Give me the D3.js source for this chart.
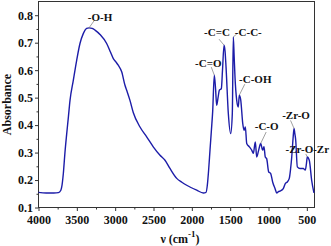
<!DOCTYPE html>
<html>
<head>
<meta charset="utf-8">
<script src="https://cdn.jsdelivr.net/npm/d3@7"></script>
<style>
  body { margin: 0; background: #fff; }
  svg { display: block; }
</style>
</head>
<body>
<div id="chart"></div>
<script>
const wavenumber = [4000, 3900, 3800, 3740, 3710, 3697, 3676, 3655, 3632, 3610, 3589, 3546, 3502, 3459, 3416, 3372, 3341, 3300, 3263, 3198, 3111, 3060, 3024, 2990, 2960, 2915, 2872, 2850, 2807, 2763, 2676, 2589, 2503, 2415, 2350, 2285, 2197, 2130, 2067, 1936, 1850, 1815, 1798, 1780, 1763, 1745, 1728, 1707, 1690, 1676, 1658, 1641, 1615, 1600, 1580, 1567, 1554, 1524, 1493, 1472, 1459, 1448, 1437, 1415, 1394, 1381, 1362, 1336, 1319, 1302, 1284, 1250, 1219, 1198, 1172, 1154, 1128, 1102, 1076, 1059, 1042, 1024, 998, 972, 946, 915, 893, 870, 850, 807, 781, 755, 729, 712, 697, 680, 667, 657, 645, 624, 589, 546, 520, 505, 494, 468, 437, 407];
const absorbance = [0.155, 0.153, 0.153, 0.154, 0.162, 0.175, 0.224, 0.30, 0.369, 0.43, 0.49, 0.563, 0.636, 0.697, 0.733, 0.752, 0.754, 0.752, 0.746, 0.73, 0.697, 0.665, 0.642, 0.63, 0.618, 0.594, 0.545, 0.527, 0.49, 0.445, 0.393, 0.357, 0.321, 0.29, 0.272, 0.242, 0.206, 0.192, 0.181, 0.163, 0.153, 0.155, 0.181, 0.24, 0.309, 0.38, 0.45, 0.582, 0.53, 0.472, 0.5, 0.527, 0.533, 0.6, 0.691, 0.67, 0.612, 0.442, 0.369, 0.442, 0.721, 0.65, 0.575, 0.491, 0.466, 0.509, 0.491, 0.406, 0.381, 0.393, 0.333, 0.321, 0.309, 0.297, 0.339, 0.284, 0.309, 0.333, 0.309, 0.321, 0.284, 0.278, 0.23, 0.224, 0.193, 0.169, 0.153, 0.158, 0.16, 0.169, 0.187, 0.193, 0.206, 0.24, 0.284, 0.35, 0.388, 0.37, 0.345, 0.248, 0.242, 0.242, 0.236, 0.26, 0.284, 0.272, 0.199, 0.153];

const xTicks = [4000, 3500, 3000, 2500, 2000, 1500, 1000, 500];
const yTicks = [0.1, 0.2, 0.3, 0.4, 0.5, 0.6, 0.7, 0.8];

const peakLabels = ["-O-H", "-C=O", "-C=C", "-C-C-", "-C-OH", "-C-O", "-Zr-O", "-Zr-O-Zr"];
const peakWavenumbers = [3341, 1707, 1580, 1459, 1381, 1102, 667, 494];

const width = 331, height = 246;
const margin = {top: 1.5, right: 16.5, bottom: 38.5, left: 38.5};

const svg = d3.select("#chart")
    .append("svg")
    .attr("width", width)
    .attr("height", height);

const x = d3.scaleLinear()
    .domain([4000, 400])
    .range([margin.left, width - margin.right]);

const y = d3.scaleLinear()
    .domain([0.1, 0.85])
    .range([height - margin.bottom, margin.top]);

const font = "'Liberation Serif', 'Times New Roman', serif";
const axisColor = "#333";

// minor ticks
svg.append("g")
    .attr("transform", `translate(0,${height - margin.bottom})`)
    .call(d3.axisBottom(x).tickValues(d3.range(3750, 400, -500)).tickSize(2).tickFormat(""))
    .call(g => g.select(".domain").remove())
    .call(g => g.selectAll("line").attr("stroke", axisColor));

svg.append("g")
    .attr("transform", `translate(${margin.left},0)`)
    .call(d3.axisLeft(y).tickValues(d3.range(0.15, 0.85, 0.1)).tickSize(2).tickFormat(""))
    .call(g => g.select(".domain").remove())
    .call(g => g.selectAll("line").attr("stroke", axisColor));

// major ticks
svg.append("g")
    .attr("transform", `translate(0,${height - margin.bottom})`)
    .call(d3.axisBottom(x).tickValues(xTicks).tickSize(3.5).tickPadding(4).tickFormat(d3.format("d")))
    .call(g => g.select(".domain").remove())
    .call(g => g.selectAll("line").attr("stroke", axisColor))
    .call(g => g.selectAll("text")
        .attr("font-family", font)
        .attr("font-weight", "bold")
        .attr("font-size", "12px")
        .attr("fill", "#111"));

svg.append("g")
    .attr("transform", `translate(${margin.left},0)`)
    .call(d3.axisLeft(y).tickValues(yTicks).tickSize(3.5).tickPadding(2).tickFormat(d3.format(".1f")))
    .call(g => g.select(".domain").remove())
    .call(g => g.selectAll("line").attr("stroke", axisColor))
    .call(g => g.selectAll("text")
        .attr("font-family", font)
        .attr("font-weight", "bold")
        .attr("font-size", "12px")
        .attr("fill", "#111"));

// frame
svg.append("rect")
    .attr("x", margin.left)
    .attr("y", margin.top)
    .attr("width", width - margin.left - margin.right)
    .attr("height", height - margin.top - margin.bottom)
    .attr("fill", "none")
    .attr("stroke", axisColor)
    .attr("stroke-width", 1);

// spectrum
const data = wavenumber.map((w, i) => ({w: w, a: absorbance[i]}));

const line = d3.line()
    .x(d => x(d.w))
    .y(d => y(d.a))
    .curve(d3.curveMonotoneX);

svg.append("path")
    .datum(data)
    .attr("fill", "none")
    .attr("stroke", "#1c1ca8")
    .attr("stroke-width", 1.4)
    .attr("d", line);

// peak annotations: [text dx, text dy, leader dx, leader dy] relative to peak
const offsets = [
    [11, -11, 5, -7],
    [-6, -12, -3, -8],
    [-7, -13, -5, -6],
    [15, -5, 3.5, -3],
    [16, -16, 5.5, -11],
    [6, -17, 5.5, -11.5],
    [2, -13, -3.5, -8],
    [0, -8, -1.5, -3]
];

peakLabels.forEach((label, i) => {
    const w = peakWavenumbers[i];
    const a = absorbance[wavenumber.indexOf(w)];
    const px = x(w), py = y(a);
    const o = offsets[i];

    svg.append("line")
        .attr("x1", px)
        .attr("y1", py)
        .attr("x2", px + o[2])
        .attr("y2", py + o[3])
        .attr("stroke", "#888")
        .attr("stroke-width", 0.8);

    svg.append("text")
        .attr("x", px + o[0])
        .attr("y", py + o[1])
        .attr("dy", "0.35em")
        .attr("text-anchor", "middle")
        .attr("font-family", font)
        .attr("font-weight", "bold")
        .attr("font-size", "11px")
        .attr("fill", "#111")
        .text(label);
});

// axis titles
svg.append("text")
    .attr("transform", `translate(11,${(margin.top + height - margin.bottom) / 2}) rotate(-90)`)
    .attr("text-anchor", "middle")
    .attr("font-family", font)
    .attr("font-weight", "bold")
    .attr("font-size", "12px")
    .attr("fill", "#111")
    .text("Absorbance");

const xt = svg.append("text")
    .attr("x", 180)
    .attr("y", 243)
    .attr("text-anchor", "middle")
    .attr("font-family", font)
    .attr("font-weight", "bold")
    .attr("font-size", "12px")
    .attr("fill", "#111");
xt.append("tspan").text("ν (cm");
xt.append("tspan").attr("dy", -6).attr("font-size", "9px").text("-1");
xt.append("tspan").attr("dy", 6).text(")");
</script>
</body>
</html>
